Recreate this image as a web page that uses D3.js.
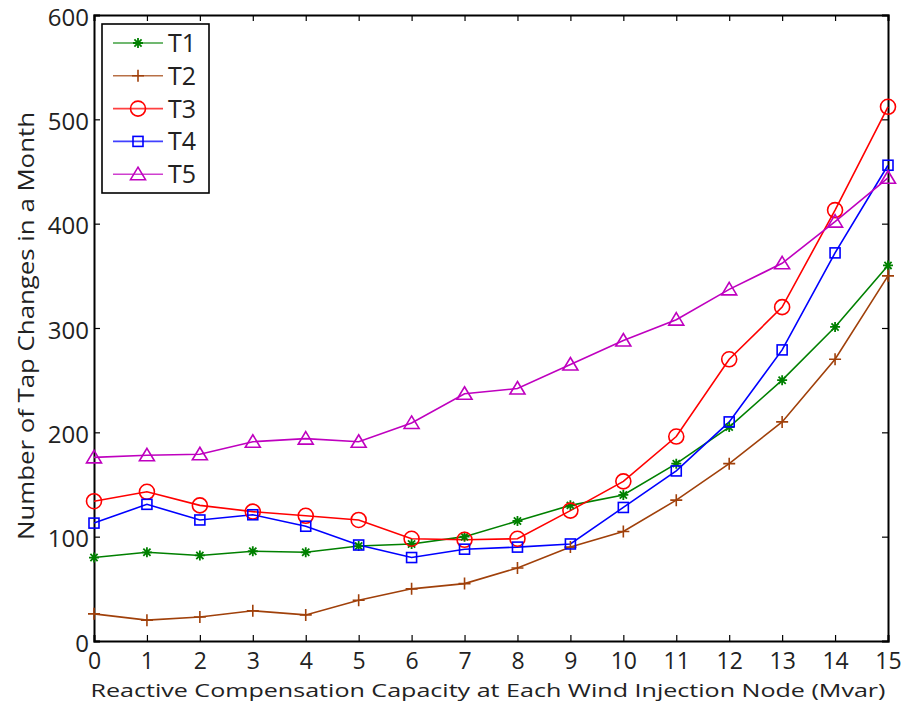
<!DOCTYPE html>
<html>
<head>
<meta charset="utf-8">
<script src="https://cdn.jsdelivr.net/npm/d3@7"></script>
<style>
  body { margin: 0; background: #fff; }
  text { font-family: "Open Sans", "DejaVu Sans", sans-serif; fill: #222; }
</style>
</head>
<body>
<svg width="904" height="709"></svg>
<script>
const capacity = d3.range(0, 16);
const seriesNames = ['T1', 'T2', 'T3', 'T4', 'T5'];
const t1 = [80, 85, 82, 86, 85, 91, 93, 100, 115, 130, 140, 170, 205, 250, 301, 360];
const t2 = [26, 20, 23, 29, 25, 39, 50, 55, 70, 90, 105, 135, 170, 210, 270, 350];
const t3 = [134, 143, 130, 124, 120, 116, 98, 97, 98, 125, 153, 196, 270, 320, 413, 512];
const t4 = [113, 131, 116, 121, 110, 92, 80, 88, 90, 93, 128, 163, 210, 279, 372, 456];
const t5 = [176, 178, 179, 191, 194, 191, 209, 237, 242, 265, 288, 308, 337, 362, 402, 444];
const yTicks = [0, 100, 200, 300, 400, 500, 600];

const colors = ['#008000', '#a0400a', '#ff0000', '#0000ff', '#bf00bf'];
const markers = ['star', 'plus', 'circle', 'square', 'triangle'];
const allSeries = [t1, t2, t3, t4, t5];

const svg = d3.select('svg');
const plotLeft = 94, plotRight = 888, plotTop = 15, plotBottom = 641;

const x = d3.scaleLinear().domain([0, 15]).range([plotLeft, plotRight]);
const y = d3.scaleLinear().domain([0, 600]).range([plotBottom, plotTop]);

// axes with inward ticks, box on all sides
svg.append('g')
  .attr('transform', `translate(0,${plotBottom})`)
  .call(d3.axisBottom(x).tickValues(capacity).tickSize(-6).tickPadding(12).tickFormat(d3.format('d')))
  .call(g => g.selectAll('text').attr('font-size', 23));
svg.append('g')
  .attr('transform', `translate(${plotLeft},0)`)
  .call(d3.axisLeft(y).tickValues(yTicks).tickSize(-6).tickPadding(5))
  .call(g => g.selectAll('text').attr('font-size', 24).attr('dy', '0.42em'));
svg.append('g')
  .attr('transform', `translate(0,${plotTop})`)
  .call(d3.axisTop(x).tickValues(capacity).tickSize(-6).tickFormat(''));
svg.append('g')
  .attr('transform', `translate(${plotRight},0)`)
  .call(d3.axisRight(y).tickValues(yTicks).tickSize(-6).tickFormat(''));

svg.selectAll('.domain').attr('stroke', '#000').attr('stroke-width', 2);
svg.selectAll('.tick line').attr('stroke', '#000').attr('stroke-width', 1.2);

svg.append('text')
  .attr('x', 488).attr('y', 697)
  .attr('text-anchor', 'middle').attr('font-size', 19)
  .attr('textLength', 795).attr('lengthAdjust', 'spacingAndGlyphs')
  .text('Reactive Compensation Capacity at Each Wind Injection Node (Mvar)');
svg.append('text')
  .attr('transform', 'translate(34,326) rotate(-90)')
  .attr('text-anchor', 'middle').attr('font-size', 21)
  .attr('textLength', 428).attr('lengthAdjust', 'spacingAndGlyphs')
  .text('Number of Tap Changes in a Month');

function drawMarker(g, type, color) {
  if (type === 'circle') {
    g.append('circle').attr('r', 7.5).attr('fill', 'none').attr('stroke', color).attr('stroke-width', 1.6);
  } else if (type === 'square') {
    g.append('rect').attr('x', -5).attr('y', -5).attr('width', 10).attr('height', 10)
      .attr('fill', 'none').attr('stroke', color).attr('stroke-width', 1.6);
  } else if (type === 'triangle') {
    g.append('path').attr('d', 'M0,-7L7.5,5.5L-7.5,5.5Z')
      .attr('fill', 'none').attr('stroke', color).attr('stroke-width', 1.6);
  } else if (type === 'plus') {
    g.append('path').attr('d', 'M-6,0H6M0,-6V6').attr('stroke', color).attr('stroke-width', 1.6);
  } else if (type === 'star') {
    g.append('path').attr('d', 'M-5,0H5M0,-5V5M-3.6,-3.6L3.6,3.6M-3.6,3.6L3.6,-3.6')
      .attr('stroke', color).attr('stroke-width', 1.8);
  }
}

const line = d3.line().x((d, i) => x(capacity[i])).y(d => y(d));

allSeries.forEach((vals, k) => {
  svg.append('path').datum(vals)
    .attr('d', line).attr('fill', 'none')
    .attr('stroke', colors[k]).attr('stroke-width', 1.6);
});
allSeries.forEach((vals, k) => {
  vals.forEach((v, i) => {
    const g = svg.append('g').attr('transform', `translate(${x(capacity[i])},${y(v)})`);
    drawMarker(g, markers[k], colors[k]);
  });
});

// legend
const legend = svg.append('g');
legend.append('rect').attr('x', 102).attr('y', 24).attr('width', 107).attr('height', 169)
  .attr('fill', '#fff').attr('stroke', '#000').attr('stroke-width', 1.6);
seriesNames.forEach((name, k) => {
  const ly = 43 + k * 32.8;
  legend.append('line').attr('x1', 113).attr('x2', 163).attr('y1', ly).attr('y2', ly)
    .attr('stroke', colors[k]).attr('stroke-width', 1.6).attr('stroke-opacity', 0.75);
  drawMarker(legend.append('g').attr('transform', `translate(138,${ly})`), markers[k], colors[k]);
  legend.append('text').attr('x', 168).attr('y', ly + 9).attr('font-size', 25).text(name);
});
</script>
</body>
</html>
